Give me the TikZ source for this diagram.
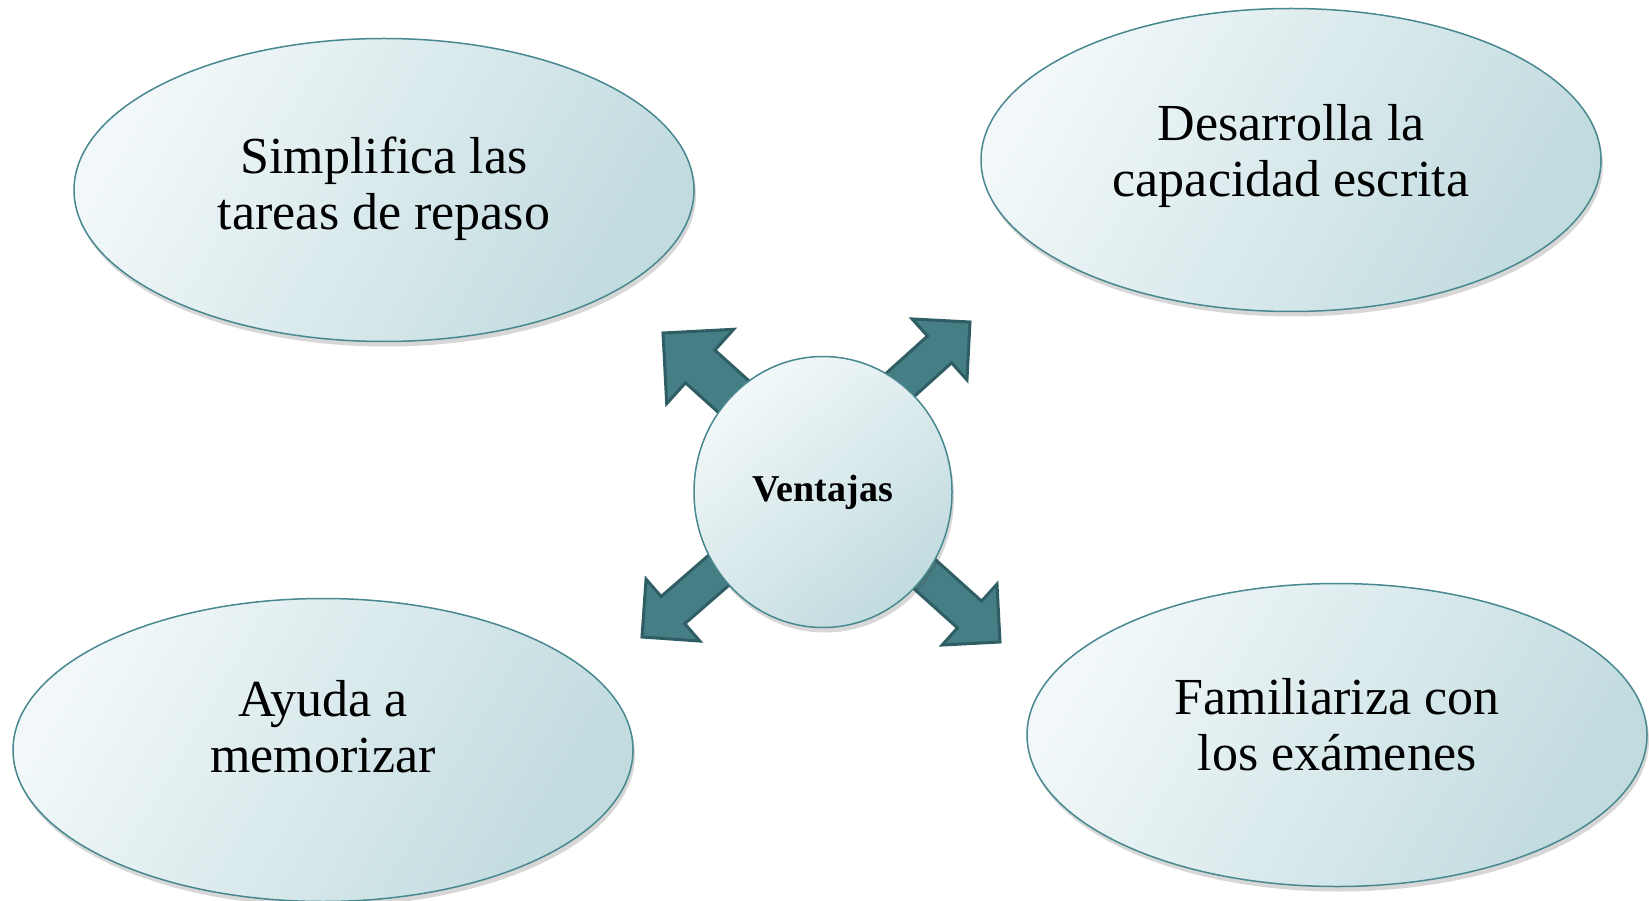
\documentclass[tikz,border=0pt]{standalone}
\usepackage{fontspec}
\setmainfont{Liberation Serif}
\usetikzlibrary{shapes.geometric,shadows}
\definecolor{tealline}{RGB}{72,136,143}
\definecolor{paleA}{RGB}{242,248,249}
\definecolor{paleB}{RGB}{193,219,223}
\definecolor{arrowfill}{RGB}{69,126,132}
\definecolor{arrowline}{RGB}{46,94,100}

\tikzset{
  bubble/.style={ellipse, draw=tealline, line width=1.5pt, top color=paleA, bottom color=paleB,
    shading angle=60, inner sep=0pt, minimum width=620pt, minimum height=303pt,
    drop shadow={shadow xshift=2pt, shadow yshift=-5pt, opacity=0.22, fill=black!70}},
  hub/.style={bubble, minimum width=258pt, minimum height=271pt, shading angle=40},
  bubbletext/.style={align=center, font=\fontsize{52}{56}\selectfont},
  arrowbody/.style={fill=arrowfill, draw=arrowline, line width=3pt, line join=miter},
}
\newcommand{\blockarrow}[3]{% tip, angle, scale
  \begin{scope}[shift={(#1)}, rotate=#2, scale=#3]
    \draw[arrowbody] (0,0) -- (-41,-41) -- (-41,-18) -- (-140,-18) -- (-140,18) -- (-41,18) -- (-41,41) -- cycle;
  \end{scope}}

\begin{document}
\begin{tikzpicture}[x=1pt,y=-1pt]
	\useasboundingbox (0,0) rectangle (1649,901);
	\fill[white] (0,0) rectangle (1649,901);

	\node (simplifica) [bubble] at (384,190) {};
	\node (desarrolla) [bubble] at (1291,160) {};
	\node (ayuda) [bubble] at (323,750) {};
	\node (familiariza) [bubble] at (1337,735) {};

	\node (simplificatxt) [bubbletext] at (384,189) {Simplifica las\\tareas de repaso};
	\node (desarrollatxt) [bubbletext] at (1291,156) {Desarrolla la\\capacidad escrita};
	\node (ayudatxt) [bubbletext] at (323,727) {Ayuda a\\memorizar};
	\node (familiarizatxt) [bubbletext] at (1337,725) {Familiariza con\\los exámenes};

	% arrow tips
	\coordinate (tipTL) at (663,333);
	\coordinate (tipTR) at (970,322);
	\coordinate (tipBL) at (642,637);
	\coordinate (tipBR) at (1000,642);
	\blockarrow{tipTL}{138}{1.22}
	\blockarrow{tipTR}{42}{1}
	\blockarrow{tipBL}{221}{1}
	\blockarrow{tipBR}{-42}{1}

	\node (ventajas) [hub, font=\bfseries\fontsize{38}{42}\selectfont] at (823,492) {Ventajas};
\end{tikzpicture}
\end{document}
